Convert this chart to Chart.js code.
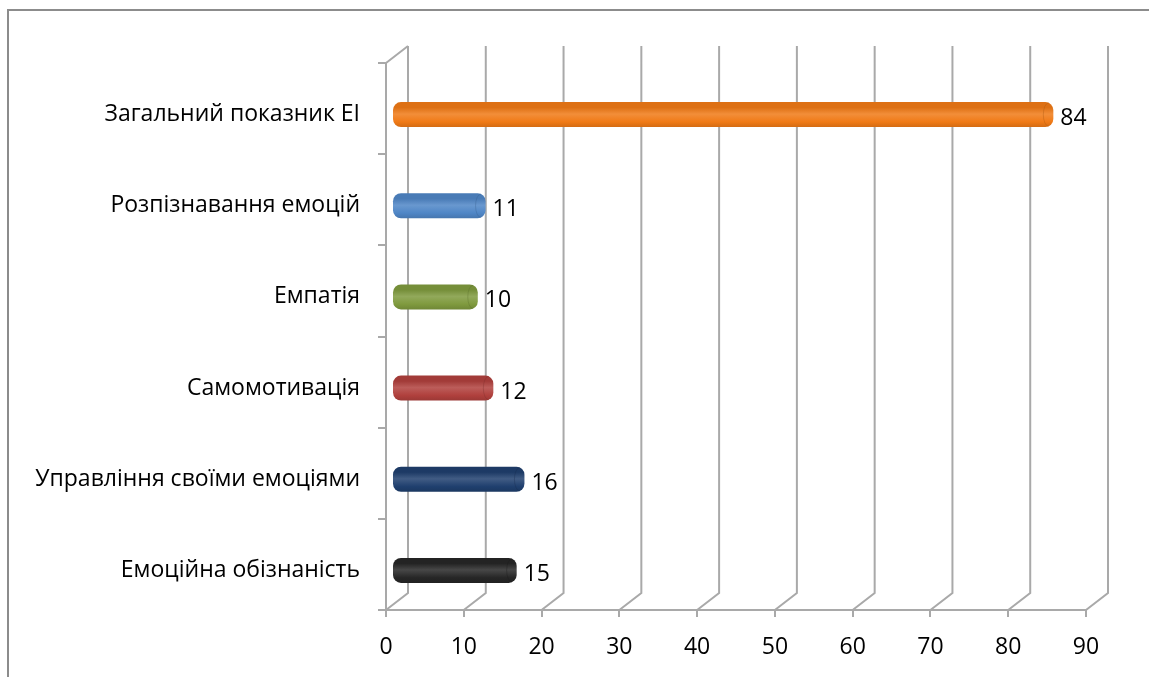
<!DOCTYPE html>
<html>
<head>
<meta charset="utf-8">
<script src="https://cdn.jsdelivr.net/npm/chart.js@4.4.1/dist/chart.umd.min.js"></script>
<style>
  html, body { margin: 0; padding: 0; background: #fff; }
  #wrap { position: relative; width: 1149px; height: 677px; overflow: hidden; }
  #frame { position: absolute; left: 7px; top: 9px; width: 1200px; height: 700px;
           border-top: 2px solid #8c8c8c; border-left: 2px solid #8c8c8c; }
  #myChart { position: absolute; left: 0; top: 0; }
</style>
</head>
<body>
<div id="wrap">
  <div id="frame"></div>
  <canvas id="myChart" width="1149" height="677"></canvas>
</div>
<script>
const labels = [
    'Загальний показник ЕІ',
    'Розпізнавання емоцій',
    'Емпатія',
    'Самомотивація',
    'Управління своїми емоціями',
    'Емоційна обізнаність'
];
const values = [84, 11, 10, 12, 16, 15];
const barColors = ['#f07a16', '#4f86c6', '#7f9a3e', '#b0403d', '#1f3f6e', '#262626'];
const xTicks = [0, 10, 20, 30, 40, 50, 60, 70, 80, 90];

const FONT = "'Open Sans', sans-serif";
const GRID = '#a9a9a9';
// depth of the 3D box and the shift of bars into its middle
const DEPTH_X = 22, DEPTH_Y = -17;
const BAR_DX = 10, BAR_DY = 6;

function shade(hex, f) {
    const n = parseInt(hex.slice(1), 16);
    let r = (n >> 16) & 255, g = (n >> 8) & 255, b = n & 255;
    if (f >= 0) {
        r += (255 - r) * f; g += (255 - g) * f; b += (255 - b) * f;
    } else {
        r *= 1 + f; g *= 1 + f; b *= 1 + f;
    }
    return `rgb(${Math.round(r)},${Math.round(g)},${Math.round(b)})`;
}

function cylinderFill(context) {
    const chart = context.chart;
    const base = barColors[context.dataIndex];
    const yScale = chart.scales.y;
    if (!chart.chartArea || !yScale) return base;
    const cy = yScale.getPixelForValue(context.dataIndex) + BAR_DY;
    const g = chart.ctx.createLinearGradient(0, cy - 13, 0, cy + 13);
    g.addColorStop(0, shade(base, -0.08));
    g.addColorStop(0.25, shade(base, 0.15));
    g.addColorStop(0.55, base);
    g.addColorStop(0.85, shade(base, -0.18));
    g.addColorStop(1, shade(base, -0.4));
    return g;
}

// back wall, side wall and the bar offset
const box3d = {
    id: 'box3d',
    beforeDatasetsDraw(chart) {
        const {ctx, chartArea} = chart;
        const x = chart.scales.x;
        ctx.save();
        ctx.strokeStyle = GRID;
        ctx.lineWidth = 2;
        ctx.beginPath();
        xTicks.forEach(v => {
            const px = x.getPixelForValue(v);
            ctx.moveTo(px, chartArea.bottom);
            ctx.lineTo(px + DEPTH_X, chartArea.bottom + DEPTH_Y);
            ctx.lineTo(px + DEPTH_X, chartArea.top + DEPTH_Y);
        });
        ctx.moveTo(chartArea.left, chartArea.top);
        ctx.lineTo(chartArea.left + DEPTH_X, chartArea.top + DEPTH_Y);
        ctx.stroke();
        ctx.restore();

        ctx.save();
        ctx.translate(BAR_DX, BAR_DY);
    },
    afterDatasetsDraw(chart) {
        const {ctx} = chart;
        const meta = chart.getDatasetMeta(0);
        meta.data.forEach((bar, i) => {
            const h = bar.height + 8;
            const right = bar.x + 4;
            ctx.save();
            ctx.beginPath();
            ctx.ellipse(right - 5, bar.y, 5, h / 2 - 1, 0, -Math.PI / 2, Math.PI / 2, true);
            ctx.strokeStyle = shade(barColors[i], -0.3);
            ctx.globalAlpha = 0.35;
            ctx.lineWidth = 1;
            ctx.stroke();
            ctx.restore();
        });
        ctx.restore();

        // value labels next to the bar ends
        ctx.save();
        ctx.font = '23px ' + FONT;
        ctx.fillStyle = '#000';
        ctx.textAlign = 'left';
        ctx.textBaseline = 'middle';
        meta.data.forEach((bar, i) => {
            ctx.fillText(String(values[i]), bar.x + BAR_DX + 11, bar.y + BAR_DY + 4);
        });
        ctx.restore();
    }
};

const data = {
    labels: labels,
    datasets: [{
        data: values,
        backgroundColor: cylinderFill,
        borderWidth: 0,
        borderRadius: 8,
        borderSkipped: false,
        barThickness: 17,
        inflateAmount: 4,
        clip: false
    }]
};

const config = {
    type: 'bar',
    data,
    plugins: [box3d],
    options: {
        indexAxis: 'y',
        responsive: false,
        animation: false,
        events: [],
        layout: {padding: {top: 63, right: 63, left: 0, bottom: 0}},
        plugins: {legend: {display: false}, tooltip: {enabled: false}},
        scales: {
            x: {
                min: 0,
                max: 90,
                ticks: {stepSize: 10, color: '#000', font: {family: FONT, size: 23}, padding: 17, maxRotation: 0},
                grid: {drawOnChartArea: false, tickLength: 7, color: GRID, lineWidth: 2},
                border: {color: GRID, width: 2},
                afterFit: s => { s.height = 67; }
            },
            y: {
                ticks: {color: '#000', font: {family: FONT, size: 23}, padding: 18, labelOffset: 6},
                grid: {drawOnChartArea: false, tickLength: 8, color: GRID, lineWidth: 2, offset: true},
                border: {color: GRID, width: 2},
                afterFit: s => { s.width = 386; }
            }
        }
    }
};

new Chart(document.getElementById('myChart'), config);
</script>
</body>
</html>
